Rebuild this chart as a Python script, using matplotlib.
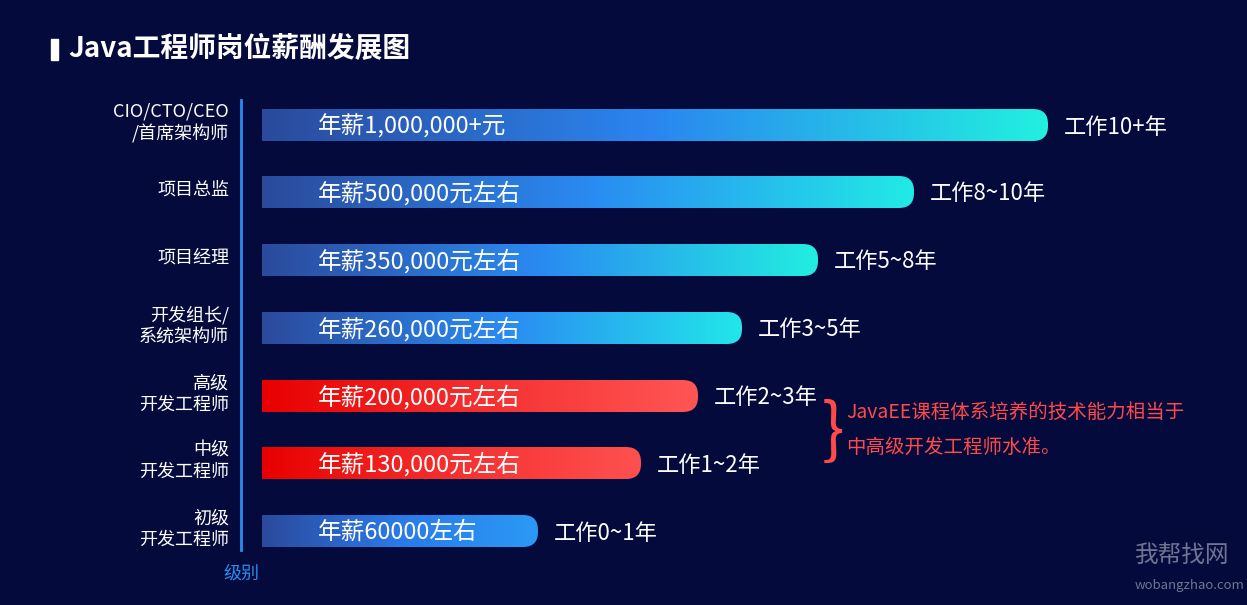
import matplotlib
matplotlib.use("Agg")
import matplotlib.pyplot as plt
import numpy as np
from matplotlib.patches import FancyBboxPatch
from matplotlib.colors import LinearSegmentedColormap

plt.rcParams['font.family'] = ['Noto Sans CJK SC']

categories = ["CIO/CTO/CEO\n/首席架构师", "项目总监", "项目经理", "开发组长/\n系统架构师",
              "高级\n开发工程师", "中级\n开发工程师", "初级\n开发工程师"]
values = [786, 652, 556, 480, 436, 379, 276]
salary_labels = ["年薪1,000,000+元", "年薪500,000元左右", "年薪350,000元左右", "年薪260,000元左右",
                 "年薪200,000元左右", "年薪130,000元左右", "年薪60000左右"]
years_labels = ["工作10+年", "工作8~10年", "工作5~8年", "工作3~5年", "工作2~3年", "工作1~2年", "工作0~1年"]
bar_colors = [["#2b4a9c", "#2a86f0", "#22f0e0"], ["#2b4a9c", "#2a8af2", "#22eae6"],
              ["#2b4a9c", "#2a8af2", "#22eee0"], ["#2b4a9c", "#2a8af2", "#22e6ea"],
              ["#e80000", "#f53030", "#ff5555"], ["#e80000", "#f53030", "#ff5050"],
              ["#2b4a9c", "#2a7ae8", "#2a9af5"]]
centers = [125, 192, 260, 328, 396, 463, 531]

BG = "#040a3c"
fig = plt.figure(figsize=(12.47, 6.05), dpi=100, facecolor=BG)
ax = fig.add_axes([0, 0, 1, 1])
ax.set_facecolor(BG)
ax.set_xlim(0, 1247)
ax.set_ylim(605, 0)
ax.axis("off")

x0 = 262
h = 32
grad = np.linspace(0, 1, 256).reshape(1, -1)
for cat, v, sl, yl, cols, yc in zip(categories, values, salary_labels, years_labels, bar_colors, centers):
    cmap = LinearSegmentedColormap.from_list("g", cols)
    patch = FancyBboxPatch((x0 - 30, yc - h / 2), v + 30, h,
                           boxstyle="round,pad=0,rounding_size=15",
                           mutation_aspect=1, facecolor="none", edgecolor="none")
    ax.add_patch(patch)
    im = ax.imshow(grad, cmap=cmap, extent=(x0, x0 + v, yc + h / 2, yc - h / 2), aspect="auto", zorder=2)
    im.set_clip_path(patch)
    ax.text(318, yc + 1, sl, color="white", fontsize=17, va="center", ha="left", zorder=3)
    ax.text(x0 + v + 16, yc + 2, yl, color="white", fontsize=16, va="center", ha="left", zorder=3)
    ax.text(229, yc - 2, cat, color="white", fontsize=13, va="center", ha="right", linespacing=1.2)

ax.plot([241, 241], [100, 550], color="#2a8cf0", lw=2)
ax.text(241, 574, "级别", color="#2a8cf0", fontsize=13, ha="center", va="center")

# title
ax.add_patch(plt.Rectangle((51, 39), 7, 21, color="white"))
ax.text(68, 49, "Java工程师岗位薪酬发展图", color="white", fontsize=20, fontweight="bold", va="center")

# brace + note
ax.text(822, 432, "}", color="#ff4a4a", fontsize=48, va="center", ha="left", fontweight="light")
ax.text(846, 412, "JavaEE课程体系培养的技术能力相当于", color="#ff4a4a", fontsize=14, va="center")
ax.text(846, 447, "中高级开发工程师水准。", color="#ff4a4a", fontsize=14, va="center")

# watermark
ax.text(1135, 555, "我帮找网", color="#8a8fa8", fontsize=17, va="center", alpha=0.8)
ax.text(1135, 585, "wobangzhao.com", color="#8a8fa8", fontsize=9.5, va="center", alpha=0.8)

fig.savefig("out.png", dpi=100, facecolor=BG)
